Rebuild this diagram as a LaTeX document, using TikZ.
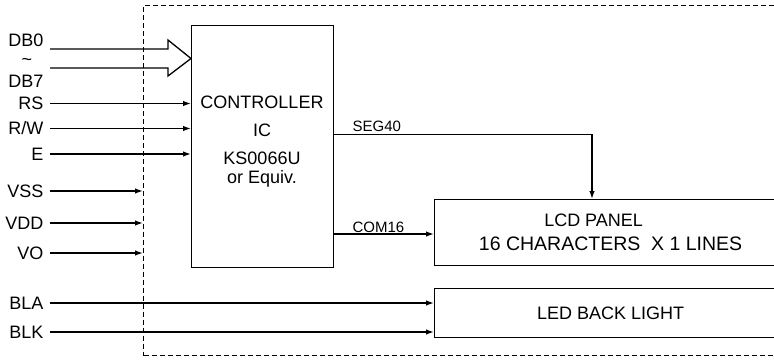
\documentclass[tikz,border=0pt]{standalone}
\usepackage{fontspec}
\setmainfont{Liberation Sans}
\usetikzlibrary{arrows.meta,positioning,calc}

\begin{document}
\begin{tikzpicture}[
    x=1pt, y=-1pt,
    font=\fontsize{18}{28}\selectfont,
    line width=1.2pt,
    box/.style={draw, line width=1.2pt, inner sep=0pt, anchor=north west},
    pin/.style={anchor=east, inner sep=0pt, text height=12.9pt, text depth=0pt},
    sig/.style={-{Latex[length=8pt,width=5.5pt]}, line width=1.4pt},
    tag/.style={font=\fontsize{15}{18}\selectfont, inner sep=0pt, anchor=base west},
  ]
\clip (0,0) rectangle (774,361);

% module outline
\node[box, line width=1pt, dash pattern=on 5pt off 3pt,
      minimum width=680pt, minimum height=350pt] (frame) at (143,5) {};

% blocks
\node[box, minimum width=142pt, minimum height=242pt] (ctrl) at (191,25) {};
\node[align=center, inner sep=0pt, anchor=north] (ctrltxt) at (262,95)
  {CONTROLLER\\IC\\KS0066U\\[-9pt]or Equiv.};

\node[box, minimum width=352pt, minimum height=66pt, align=center,
      font=\fontsize{18}{24}\selectfont] (lcd) at (434,199)
  {LCD PANEL\hspace*{34pt}\\{\fontsize{19.5}{24}\selectfont 16 CHARACTERS~~X 1 LINES}};

\node[box, minimum width=352pt, minimum height=49pt] (led) at (434,288) {LED BACK LIGHT};

% pin names
\node[pin] (db0) at (44,40) {DB0};
\node[inner sep=0pt, anchor=base] (tl) at (27,66) {\textasciitilde};
\node[pin] (db7) at (44,81) {DB7};
\node[pin] (rs) at (44,103.5) {RS};
\node[pin] (rw) at (44,128.5) {R/W};
\node[pin] (e) at (44,154) {E};
\node[pin] (vss) at (44,191) {VSS};
\node[pin] (vdd) at (44,223) {VDD};
\node[pin] (vo) at (44,253) {VO};
\node[pin] (bla) at (44,303) {BLA};
\node[pin] (blk) at (44,332) {BLK};

% data bus
\coordinate (busin) at (50,58.5);
\draw[line width=1.3pt, line join=miter] ([yshift=9.5pt]busin) -- ++(118,0) -- ++(0,-9)
  -- (busin -| ctrl.west) -- ++(-23,17.5) -- ++(0,-8) -- ++(-118,0);

% control and supply lines
\foreach \p in {rs,rw,e}
  \draw[sig] ([xshift=6pt]\p.east) -- (\p.east -| ctrl.west);
\foreach \p in {vss,vdd,vo}
  \draw[sig] ([xshift=6pt]\p.east) -- (\p.east -| frame.west);
\foreach \p in {bla,blk}
  \draw[sig] ([xshift=6pt]\p.east) -- (\p.east -| led.west);

% driver outputs
\coordinate (segbend) at (592,134.5);
\draw[sig] (segbend -| ctrl.east) -- (segbend) -- (segbend |- lcd.north);
\node[tag] (seg) at (352,131) {SEG40};

\coordinate (comrow) at (0,234);
\draw[sig] (comrow -| ctrl.east) -- (comrow -| lcd.west);
\node[tag] (com) at (352,232) {COM16};

\end{tikzpicture}
\end{document}
